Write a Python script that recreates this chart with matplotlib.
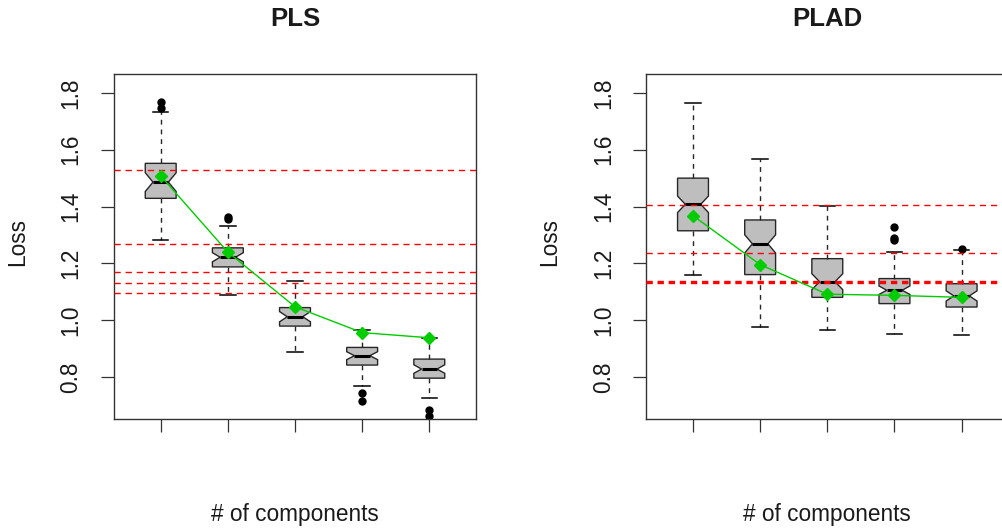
import matplotlib
matplotlib.use('Agg')
import matplotlib.pyplot as plt

plt.rcParams['font.family'] = ['Liberation Sans', 'DejaVu Sans']

components = [1, 2, 3, 4, 5]
panel_titles = ['PLS', 'PLAD']
x_label = '# of components'
y_label = 'Loss'
y_ticks = [0.8, 1.0, 1.2, 1.4, 1.6, 1.8]
y_tick_labels = ['0.8', '1.0', '1.2', '1.4', '1.6', '1.8']

# PLS panel
pls_q1 = [1.429, 1.188, 0.980, 0.843, 0.797]
pls_med = [1.486, 1.222, 1.013, 0.876, 0.829]
pls_q3 = [1.552, 1.255, 1.045, 0.905, 0.864]
pls_whislo = [1.284, 1.088, 0.890, 0.770, 0.728]
pls_whishi = [1.732, 1.333, 1.139, 0.967, 0.939]
pls_notch = [0.033, 0.016, 0.018, 0.014, 0.015]
pls_fliers = [[1.766, 1.745], [1.357, 1.362], [], [0.744, 0.717], [0.685, 0.664]]
pls_mean = [1.508, 1.240, 1.048, 0.957, 0.939]
pls_ref = [1.528, 1.267, 1.170, 1.132, 1.097]

# PLAD panel
plad_q1 = [1.315, 1.161, 1.081, 1.059, 1.047]
plad_med = [1.408, 1.269, 1.136, 1.106, 1.086]
plad_q3 = [1.500, 1.353, 1.217, 1.147, 1.129]
plad_whislo = [1.161, 0.978, 0.967, 0.952, 0.949]
plad_whishi = [1.763, 1.566, 1.401, 1.240, 1.248]
plad_notch = [0.029, 0.032, 0.028, 0.015, 0.018]
plad_fliers = [[], [], [], [1.329, 1.290, 1.281], [1.251]]
plad_mean = [1.368, 1.196, 1.092, 1.088, 1.081]
plad_ref = [1.4065, 1.237, 1.139, 1.135, 1.131]

W, H = 1002, 531
fig = plt.figure(figsize=(W / 100, H / 100), dpi=100)

edge = '#262626'
panels = [
    (pls_q1, pls_med, pls_q3, pls_whislo, pls_whishi, pls_notch, pls_fliers, pls_mean, pls_ref),
    (plad_q1, plad_med, plad_q3, plad_whislo, plad_whishi, plad_notch, plad_fliers, plad_mean, plad_ref),
]
lefts_px = [113.7, 646.0]
ax_w_px = 362.6
top_px, bot_px = 74.0, 418.7

for i, (q1, med, q3, wlo, whi, nh, fl, mn, ref) in enumerate(panels):
    ax = fig.add_axes([lefts_px[i] / W, 1 - bot_px / H, ax_w_px / W, (bot_px - top_px) / H])
    stats = []
    for k in range(len(components)):
        stats.append(dict(med=med[k], q1=q1[k], q3=q3[k], whislo=wlo[k], whishi=whi[k],
                          cilo=med[k] - nh[k], cihi=med[k] + nh[k], fliers=fl[k]))
    ax.bxp(stats, positions=components, widths=0.46, shownotches=True, patch_artist=True,
           boxprops=dict(facecolor='#BEBEBE', edgecolor=edge, linewidth=1.0),
           medianprops=dict(color='black', linewidth=2.2),
           whiskerprops=dict(color=edge, linewidth=1.0, linestyle=(0, (3.5, 3.5))),
           capprops=dict(color='black', linewidth=1.1),
           capwidths=0.23,
           flierprops=dict(marker='o', markerfacecolor='black', markeredgecolor='black',
                           markersize=5, linestyle='none'),
           zorder=2)
    for r in ref:
        ax.axhline(r, color='red', linewidth=1.0, linestyle=(0, (4.5, 3.5)), zorder=3)
    ax.plot(components, mn, color='#00CD00', linewidth=1.0, marker='D', markersize=6.5,
            markerfacecolor='#00CD00', markeredgecolor='#00CD00', zorder=4)
    ax.set_xlim(0.3, 5.7)
    ax.set_ylim(0.6545, 1.866)
    ax.set_xticks(components)
    ax.set_xticklabels([])
    ax.set_yticks(y_ticks)
    ax.set_yticklabels(y_tick_labels, rotation=90, va='center', fontsize=16.3, color='#1a1a1a')
    ax.tick_params(axis='both', length=9.4, width=0.9, color='#333333', direction='out', pad=13)
    for s in ax.spines.values():
        s.set_color('#333333')
        s.set_linewidth(1.0)
    cx = (lefts_px[i] + ax_w_px / 2) / W
    fig.text(cx, 1 - 19 / H, panel_titles[i], ha='center', va='center', fontsize=18.5,
             fontweight='bold', color='#1a1a1a')
    fig.text(cx, 1 - 515 / H, x_label, ha='center', va='center', fontsize=16.3, color='#1a1a1a')
    fig.text((lefts_px[i] - 96) / W, 1 - 242 / H, y_label, ha='center', va='center',
             rotation=90, fontsize=16.3, color='#1a1a1a')

fig.savefig('out.png', dpi=100)
